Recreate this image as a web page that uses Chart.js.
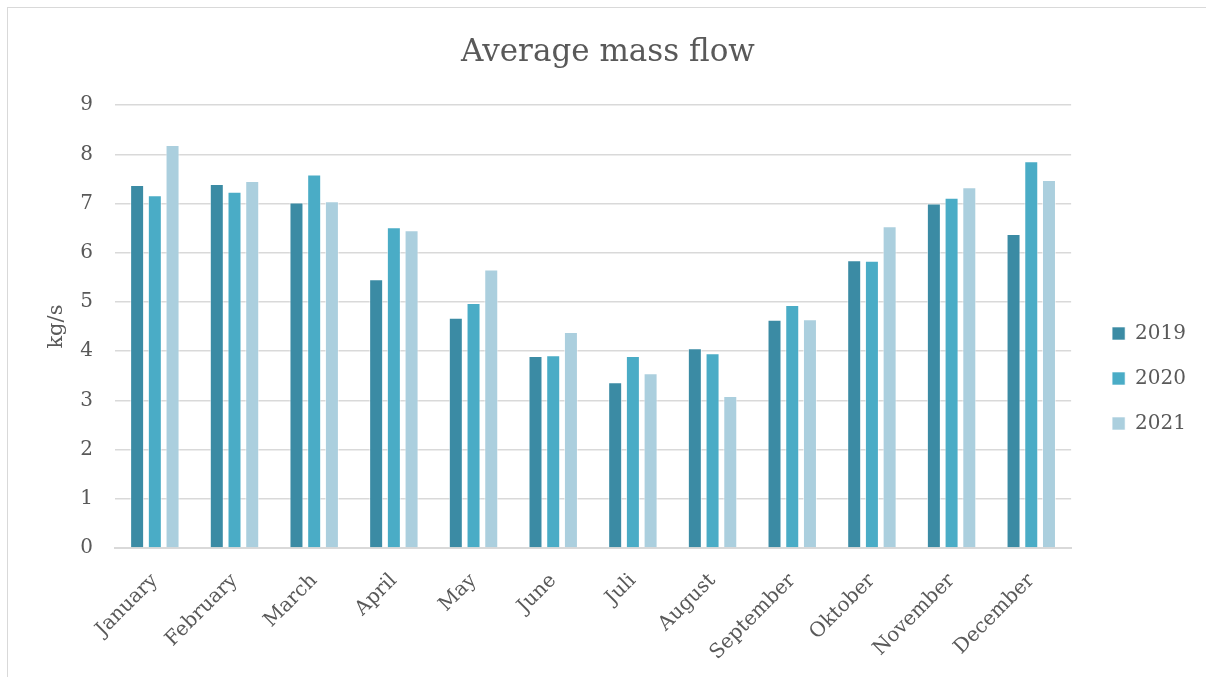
<!DOCTYPE html>
<html>
<head>
<meta charset="utf-8">
<script src="https://cdn.jsdelivr.net/npm/chart.js@4.4.0/dist/chart.umd.min.js"></script>
<style>
  html, body { margin: 0; padding: 0; background: #fff; overflow: hidden; }
  #frame {
    position: absolute; left: 7px; top: 7px;
    width: 1220px; height: 700px;
    border: 1px solid #d9d9d9;
  }
  #wrap { position: absolute; left: 0; top: 0; width: 1206px; height: 677px; }
</style>
</head>
<body>
<div id="frame"></div>
<div id="wrap"><canvas id="bar_chart" width="1206" height="677"></canvas></div>
<script>
var months = ['January', 'February', 'March', 'April', 'May', 'June',
              'Juli', 'August', 'September', 'Oktober', 'November', 'December'];
var years = ['2019', '2020', '2021'];
var flow2019 = [7.38, 7.40, 7.02, 5.46, 4.68, 3.90, 3.37, 4.06, 4.64, 5.85, 7.00, 6.38];
var flow2020 = [7.17, 7.24, 7.59, 6.52, 4.98, 3.92, 3.90, 3.96, 4.94, 5.84, 7.12, 7.86];
var flow2021 = [8.19, 7.46, 7.05, 6.46, 5.66, 4.39, 3.55, 3.09, 4.65, 6.54, 7.33, 7.48];
var yTicks = [0, 1, 2, 3, 4, 5, 6, 7, 8, 9];

var colors = ['#3b8ba4', '#4aacc6', '#abcfde'];
var textColor = '#595959';
var serif = "'DejaVu Serif', 'Liberation Serif', serif";

Chart.defaults.font.family = serif;
Chart.defaults.color = textColor;

function makeSet(i, values) {
  return {
    label: years[i],
    data: values,
    backgroundColor: colors[i],
    borderColor: 'rgba(255, 255, 255, 0.6)',
    borderWidth: 1,
    categoryPercentage: 0.667,
    barPercentage: 0.79
  };
}

// nudge the legend and title blocks after layout
var blockShift = {
  id: 'blockShift',
  afterLayout: function(chart) {
    var lg = chart.legend;
    if (lg) {
      lg.top += 23;
      lg.bottom += 23;
      lg.left += 16;
      lg.right += 16;
    }
    var tb = chart.titleBlock;
    if (tb) {
      tb.left += 18;
      tb.right += 18;
    }
  }
};

var chart = new Chart(document.getElementById('bar_chart').getContext('2d'), {
  type: 'bar',
  data: {
    labels: months,
    datasets: [
      makeSet(0, flow2019),
      makeSet(1, flow2020),
      makeSet(2, flow2021)
    ]
  },
  plugins: [blockShift],
  options: {
    responsive: false,
    animation: false,
    layout: { padding: { left: 0, right: 26, top: 34, bottom: 0 } },
    plugins: {
      title: {
        display: true,
        text: 'Average mass flow',
        color: textColor,
        font: { size: 31, weight: 'normal' },
        padding: { top: 0, bottom: 34 }
      },
      legend: {
        position: 'right',
        align: 'center',
        labels: {
          boxWidth: 13,
          boxHeight: 13,
          padding: 25,
          color: textColor,
          font: { size: 20 }
        }
      },
      tooltip: { enabled: false }
    },
    scales: {
      x: {
        afterFit: function(scale) { scale.height = 129; },
        grid: { display: false },
        border: { color: '#d9d9d9', width: 2 },
        ticks: {
          autoSkip: false,
          minRotation: 45,
          maxRotation: 45,
          padding: 13,
          color: textColor,
          font: { size: 20 }
        }
      },
      y: {
        min: 0,
        max: 9,
        afterFit: function(scale) { scale.width = 115; },
        afterBuildTicks: function(axis) {
          axis.ticks = yTicks.map(function(v) { return { value: v }; });
        },
        grid: { color: '#d9d9d9', lineWidth: 1.5, drawTicks: false },
        border: { display: false },
        title: {
          display: true,
          text: 'kg/s',
          color: textColor,
          font: { size: 21 },
          padding: { top: 44, bottom: 0 }
        },
        ticks: {
          padding: 22,
          color: textColor,
          font: { size: 20 }
        }
      }
    }
  }
});
</script>
</body>
</html>
